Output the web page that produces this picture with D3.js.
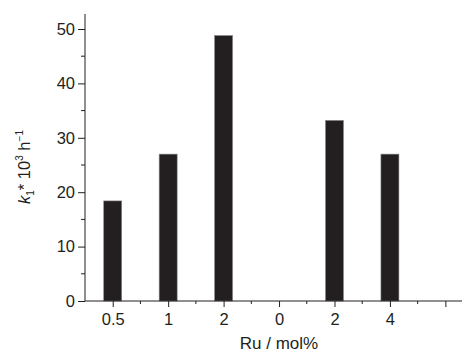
<!DOCTYPE html>
<html><head><meta charset="utf-8">
<script src="https://cdn.jsdelivr.net/npm/d3@7"></script>
<style>body{margin:0;background:#fff}svg{display:block}text{font-family:"Liberation Sans",Arial,sans-serif;fill:#231f20}</style>
</head><body>
<svg id="c" width="465" height="354"></svg>
<script>
const categories = ["0.5", "1", "2", "0", "2", "4"];
const values = [18.4, 27.0, 48.8, 0, 33.2, 27.0];
const yTicks = [0, 10, 20, 30, 40, 50];

const svg = d3.select("#c");
const x = d3.scaleLinear().domain([-0.5, 6.3]).range([85, 462]);
const y = d3.scaleLinear().domain([0, 50]).range([301, 29]);
const ink = "#231f20";
const fs = 16.5;

// bars
svg.selectAll("rect.bar").data(values).join("rect")
  .attr("class", "bar")
  .attr("x", (d, i) => x(i) - 9)
  .attr("width", 18)
  .attr("y", d => y(d))
  .attr("height", d => y(0) - y(d))
  .attr("fill", ink)
  .attr("stroke", "#8a8a8a").attr("stroke-width", 0.6);

// y axis
const yAxis = d3.axisLeft(y).tickValues(yTicks).tickSize(7).tickPadding(3);
const gy = svg.append("g").attr("transform", "translate(85,0)").call(yAxis);
gy.select(".domain").remove();
gy.selectAll(".tick line").attr("stroke", ink);
gy.selectAll(".tick text").attr("font-size", fs).style("font-family", "Liberation Sans, Arial, sans-serif").attr("fill", ink);
const yMinor = d3.range(5, 50, 10);
svg.append("g").selectAll("line").data(yMinor).join("line")
  .attr("x1", 81).attr("x2", 85).attr("y1", d => y(d)).attr("y2", d => y(d)).attr("stroke", ink);
svg.append("line").attr("x1", 85).attr("x2", 85).attr("y1", 14).attr("y2", 301).attr("stroke", ink);

// x axis
const majorIdx = d3.range(0, 7);
const gx = svg.append("g").attr("transform", "translate(0,301)")
  .call(d3.axisBottom(x).tickValues(majorIdx).tickSize(6).tickPadding(6).tickFormat(i => categories[i] || ""));
gx.select(".domain").remove();
gx.selectAll(".tick line").attr("stroke", ink);
gx.selectAll(".tick text").attr("font-size", fs).style("font-family", "Liberation Sans, Arial, sans-serif").attr("fill", ink);
const xMinor = d3.range(0, 7).map(i => i + 0.5).filter(v => v < 6.3);
svg.append("g").selectAll("line").data(xMinor).join("line")
  .attr("x1", d => x(d)).attr("x2", d => x(d)).attr("y1", 301).attr("y2", 304).attr("stroke", ink);
svg.append("line").attr("x1", 85).attr("x2", 462).attr("y1", 301).attr("y2", 301).attr("stroke", ink);

// axis titles
svg.append("text").attr("x", 279).attr("y", 349).attr("text-anchor", "middle").attr("font-size", 17).text("Ru / mol%");
const yt = svg.append("text").attr("transform", "translate(30,167) rotate(-90)").attr("text-anchor", "middle").attr("font-size", 16.5);
yt.append("tspan").attr("font-style", "italic").text("k");
yt.append("tspan").attr("font-size", 10).attr("dy", 4).text("1");
yt.append("tspan").attr("dy", -4).text("* 10");
yt.append("tspan").attr("font-size", 10).attr("dy", -7).text("3");
yt.append("tspan").attr("dy", 7).text(" h");
yt.append("tspan").attr("font-size", 10).attr("dy", -7).text("\u22121");
</script>
</body></html>
